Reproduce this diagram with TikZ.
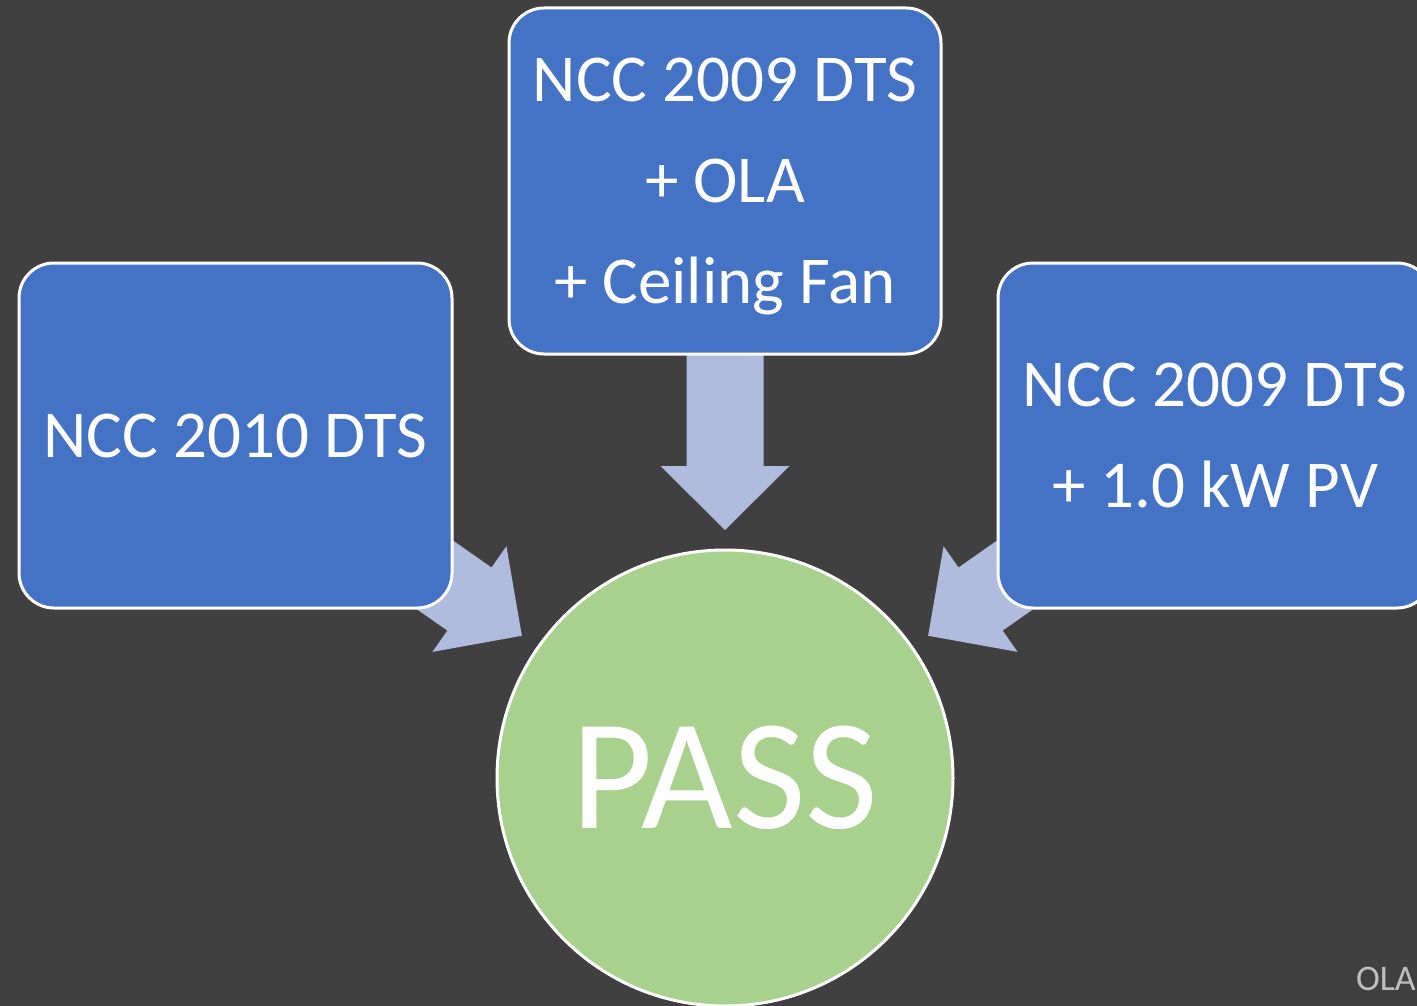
\documentclass[tikz,border=0pt]{standalone}
\usepackage{fontspec}
\setmainfont{Carlito}
\usetikzlibrary{backgrounds}
\definecolor{bgdark}{HTML}{404040}
\definecolor{boxblue}{HTML}{4472C4}
\definecolor{passgreen}{HTML}{A9D18E}
\definecolor{arrowblue}{HTML}{B0BCDE}
\definecolor{notegray}{HTML}{BFBFBF}
\tikzset{
  stepbox/.style={draw=white, line width=3, fill=boxblue, rounded corners=35,
    text=white, align=center, inner sep=0pt,
    font=\fontsize{67}{101}\selectfont},
  passnode/.style={circle, draw=white, line width=3, fill=passgreen,
    minimum size=456, inner sep=0pt, text=white,
    font=\fontsize{158}{190}\selectfont},
  blockarrow/.style={fill=arrowblue}
}
% block arrow pointing at the centre of the PASS circle, coming from angle #1
\newcommand\passarrow[1]{%
  \fill[blockarrow, shift={(pass.center)}, rotate=#1]
    (248,0) -- (312,64.5) -- (312,38.5) -- (470,38.5) --
    (470,-38.5) -- (312,-38.5) -- (312,-64.5) -- cycle;}
\begin{document}
\begin{tikzpicture}[x=1pt, y=-1pt]
  \path[use as bounding box, clip] (0,0) rectangle (1417,1006);

  \node[passnode] (pass) at (725,778) {PASS};

  \node[stepbox, minimum width=433, minimum height=345] (dts2010) at (235.5,435.5)
    {NCC 2010 DTS};
  \node[stepbox, minimum width=432, minimum height=346] (ola) at (725,181)
    {\rule{0pt}{55pt}NCC 2009 DTS\\+ OLA\\+ Ceiling Fan};
  \node[stepbox, minimum width=434, minimum height=345] (pv) at (1215,435.5)
    {NCC 2009 DTS\\+ 1.0 kW PV};

  \node[anchor=base east, text=notegray, inner sep=0pt,
    font=\fontsize{36}{40}\selectfont] (note) at (1416,990) {OLA};

  \begin{scope}[on background layer]
    \fill[bgdark] (0,0) rectangle (1417,1006);
    \passarrow{145}
    \passarrow{90}
    \passarrow{35}
  \end{scope}
\end{tikzpicture}
\end{document}
